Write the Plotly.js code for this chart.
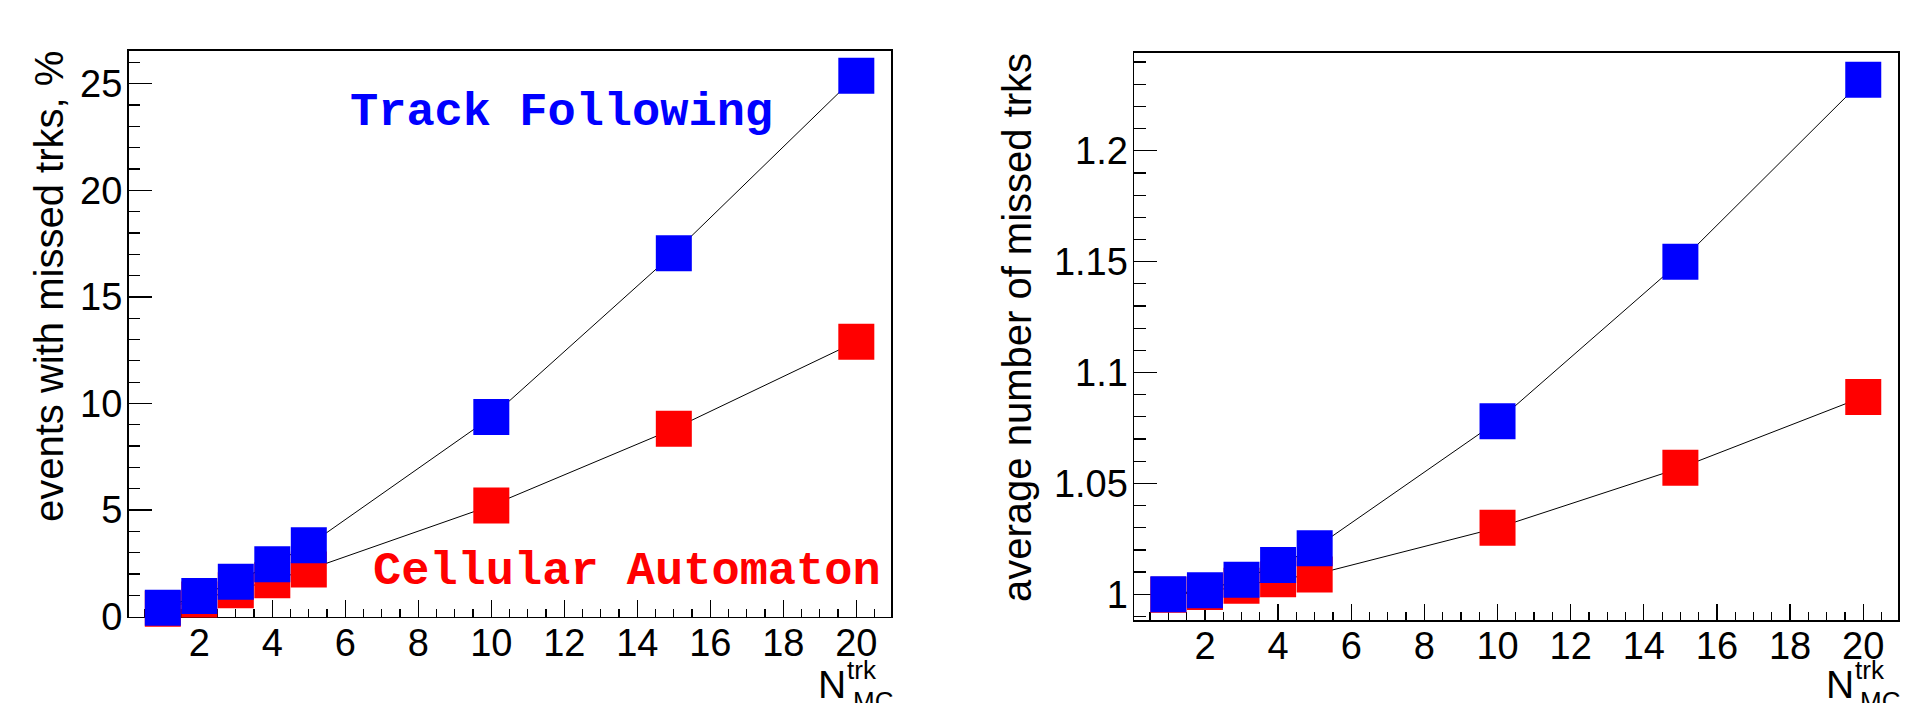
<!DOCTYPE html>
<html>
<head>
<meta charset="utf-8">
<script src="https://cdn.plot.ly/plotly-3.0.1.min.js"></script>
<style>html,body{margin:0;padding:0;background:#fff;}#chart{width:1906px;height:703px;}</style>
</head>
<body>
<div id="chart"></div>
<script>
// ---- data ----
const nTrk = [1, 2, 3, 4, 5, 10, 15, 20];
const tfEventsPct = [0.42, 0.97, 1.64, 2.46, 3.35, 9.36, 17.05, 25.37];
const caEventsPct = [0.37, 0.80, 1.24, 1.71, 2.21, 5.21, 8.81, 12.90];
const tfAvgMissed = [1.000, 1.0018, 1.0066, 1.0132, 1.0207, 1.078, 1.150, 1.232];
const caAvgMissed = [0.9998, 1.0010, 1.0038, 1.0068, 1.0089, 1.030, 1.057, 1.089];
const xTickVals = [2, 4, 6, 8, 10, 12, 14, 16, 18, 20];
const leftYTitle = 'events with missed trks, %';
const rightYTitle = 'average number of missed trks';
const tfLabel = 'Track Following';
const caLabel = 'Cellular Automaton';

const W = 1906, H = 703;
const px = v => v / W;
const py = v => 1 - v / H;
const sans = 'Liberation Sans, Arial, Helvetica, sans-serif';
const mono = 'Courier New, Liberation Mono, monospace';
const BLUE = '#0000ff', RED = '#ff0000';

function series(x, y, color, xa, ya) {
  return {
    type: 'scatter', mode: 'lines+markers', x: x, y: y, xaxis: xa, yaxis: ya,
    line: {color: 'black', width: 1},
    marker: {symbol: 'square', size: 36, color: color, line: {width: 0}},
    cliponaxis: false, hoverinfo: 'x+y'
  };
}

const traces = [
  series(nTrk, caEventsPct, RED, 'x', 'y'),
  series(nTrk, tfEventsPct, BLUE, 'x', 'y'),
  series(nTrk, caAvgMissed, RED, 'x2', 'y2'),
  series(nTrk, tfAvgMissed, BLUE, 'x2', 'y2')
];

const axCommon = {
  showline: true, mirror: true, linecolor: 'black', linewidth: 1.5,
  ticks: 'inside', tickcolor: 'black', tickwidth: 1.3,
  showgrid: false, zeroline: false, layer: 'below traces',
  tickfont: {family: sans, size: 38, color: 'black'}
};

function xAxis(domain, anchor) {
  return Object.assign({}, axCommon, {
    domain: domain, anchor: anchor, range: [0.06, 20.95],
    tickmode: 'array', tickvals: xTickVals, ticktext: xTickVals.map(String),
    ticklen: 16.5, ticklabelstandoff: -8,
    minor: {dtick: 0.5, tick0: 0, ticks: 'inside', ticklen: 8, tickwidth: 1.2, tickcolor: 'black', showgrid: false}
  });
}

const layout = {
  width: W, height: H,
  margin: {l: 0, r: 0, t: 0, b: 0},
  paper_bgcolor: 'white', plot_bgcolor: 'white',
  showlegend: false,
  xaxis: xAxis([px(128.5), px(891)], 'y'),
  xaxis2: xAxis([px(1134), px(1898)], 'y2'),
  yaxis: Object.assign({}, axCommon, {
    domain: [py(616.6), py(50.7)], anchor: 'x', range: [0, 26.55],
    dtick: 5, tick0: 0, ticklen: 23, ticklabelstandoff: -3,
    minor: {dtick: 1, tick0: 0, ticks: 'inside', ticklen: 11.5, tickwidth: 1.2, tickcolor: 'black', showgrid: false}
  }),
  yaxis2: Object.assign({}, axCommon, {
    domain: [py(620), py(52.5)], anchor: 'x2', range: [0.9884, 1.2443],
    dtick: 0.05, tick0: 1, ticklen: 23, ticklabelstandoff: -3,
    minor: {dtick: 0.01, tick0: 1, ticks: 'inside', ticklen: 11.5, tickwidth: 1.2, tickcolor: 'black', showgrid: false}
  }),
  annotations: [
    {text: leftYTitle, xref: 'paper', yref: 'paper', x: px(48.5), y: py(49), xanchor: 'center', yanchor: 'top',
     textangle: -90, showarrow: false, font: {family: sans, size: 40, color: 'black'}},
    {text: rightYTitle, xref: 'paper', yref: 'paper', x: px(1016.5), y: py(51), xanchor: 'center', yanchor: 'top',
     textangle: -90, showarrow: false, font: {family: sans, size: 40, color: 'black'}},
    {text: '<b>' + tfLabel + '</b>', xref: 'paper', yref: 'paper', x: px(561.5), y: py(112.5), xanchor: 'center', yanchor: 'middle',
     showarrow: false, font: {family: mono, size: 47, color: BLUE}},
    {text: '<b>' + caLabel + '</b>', xref: 'paper', yref: 'paper', x: px(627), y: py(571.8), xanchor: 'center', yanchor: 'middle',
     showarrow: false, font: {family: mono, size: 47, color: RED}},
    // x-axis titles N_MC^trk (left)
    {text: 'N', xref: 'paper', yref: 'paper', x: px(848), y: py(684.5), xanchor: 'right', yanchor: 'middle',
     showarrow: false, font: {family: sans, size: 39, color: 'black'}},
    {text: 'trk', xref: 'paper', yref: 'paper', x: px(845), y: py(670), xanchor: 'left', yanchor: 'middle',
     showarrow: false, font: {family: sans, size: 26, color: 'black'}},
    {text: 'MC', xref: 'paper', yref: 'paper', x: px(851), y: py(701), xanchor: 'left', yanchor: 'middle',
     showarrow: false, font: {family: sans, size: 26, color: 'black'}},
    // right
    {text: 'N', xref: 'paper', yref: 'paper', x: px(1856), y: py(684.5), xanchor: 'right', yanchor: 'middle',
     showarrow: false, font: {family: sans, size: 39, color: 'black'}},
    {text: 'trk', xref: 'paper', yref: 'paper', x: px(1853), y: py(670), xanchor: 'left', yanchor: 'middle',
     showarrow: false, font: {family: sans, size: 26, color: 'black'}},
    {text: 'MC', xref: 'paper', yref: 'paper', x: px(1858), y: py(701), xanchor: 'left', yanchor: 'middle',
     showarrow: false, font: {family: sans, size: 26, color: 'black'}}
  ]
};

Plotly.newPlot('chart', traces, layout, {displayModeBar: false, staticPlot: true});
</script>
</body>
</html>
